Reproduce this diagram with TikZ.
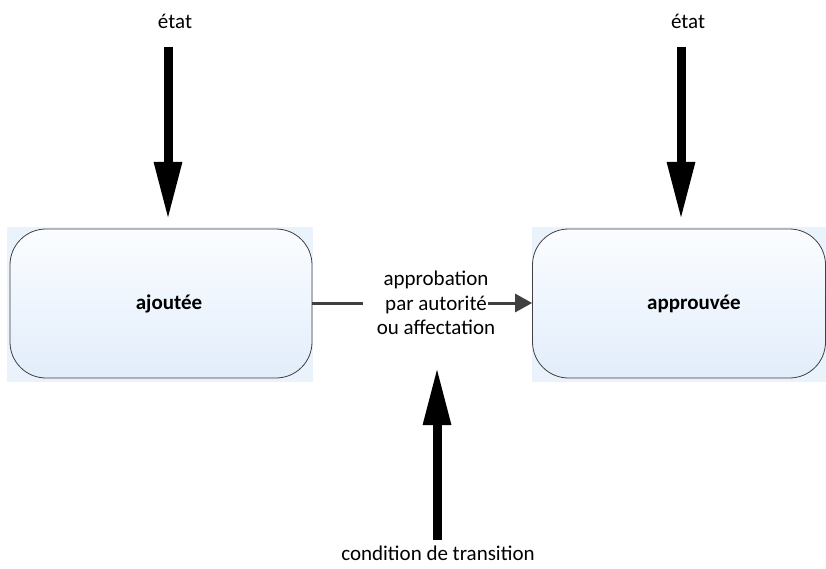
\documentclass[tikz,border=0pt]{standalone}
\usepackage{fontspec}
\setmainfont{Carlito}
\usetikzlibrary{arrows.meta, positioning}
\definecolor{boxtop}{HTML}{FBFDFF}
\definecolor{boxbottom}{HTML}{E2EDFB}
\definecolor{boxhalo}{HTML}{EAF3FC}
\definecolor{linegray}{HTML}{404040}

\begin{document}
\begin{tikzpicture} [x=1pt, y=-1pt,
                node distance = 518pt,
                on grid,
                font = \fontsize{21}{24.5}\selectfont,
                etatbox/.style = {rectangle, rounded corners=36pt,
                    draw=linegray, line width=0.8pt,
                    top color=boxtop, bottom color=boxbottom,
                    minimum width=302pt, minimum height=149pt},
                boxtext/.style = {font=\bfseries\fontsize{21}{24.5}\selectfont},
                bigarrow/.style = {-{Triangle[length=58pt, width=26pt]},
                    line width=9pt},
                smallarrow/.style = {-{Triangle[length=17pt, width=18pt]},
                    draw=linegray, line width=3pt}]

            % Page
            \useasboundingbox (0,0) rectangle (826,569);

            % Pale halo behind the boxes
            \fill [boxhalo] (7,227) rectangle (313,382);
            \fill [boxhalo] (532,227) rectangle (826,382);

            % State ajoutee
            \node (ajoutee) [etatbox,
                label={[boxtext, xshift=8pt]center:ajoutée}] at (161,303.5) {};

            % State approuvee
            \node (approuvee) [etatbox,
                minimum width=293pt,
                right = of ajoutee,
                label={[boxtext, xshift=15pt]center:approuvée}] {};

            % Transition label
            \node (transition) [align=center] at (436,303)
                {approbation\\par autorité\\ou affectation};

            % Condition label
            \node (condition) at (438,553) {condition de transition};

            % State labels
            \node (etatg) at (175,21) {état};
            \node (etatd) at (688,21) {état};

            % Arrow ends
            \coordinate (debutg) at (168,47);
            \coordinate (fing) at (168,220);
            \coordinate (debutd) at (681,47);
            \coordinate (find) at (681,220);
            \coordinate (debutc) at (437,540);
            \coordinate (finc) at (437,367);
            \coordinate (coupeg) at (363,303);
            \coordinate (couped) at (488,303);

            % Arrows
            \draw [bigarrow] (debutg) -- (fing);
            \draw [bigarrow] (debutd) -- (find);
            \draw [bigarrow] (debutc) -- (finc);
            \draw [smallarrow, -] (ajoutee.east |- coupeg) -- (coupeg);
            \draw [smallarrow] (couped) -- (approuvee.west |- couped);
\end{tikzpicture}
\end{document}
